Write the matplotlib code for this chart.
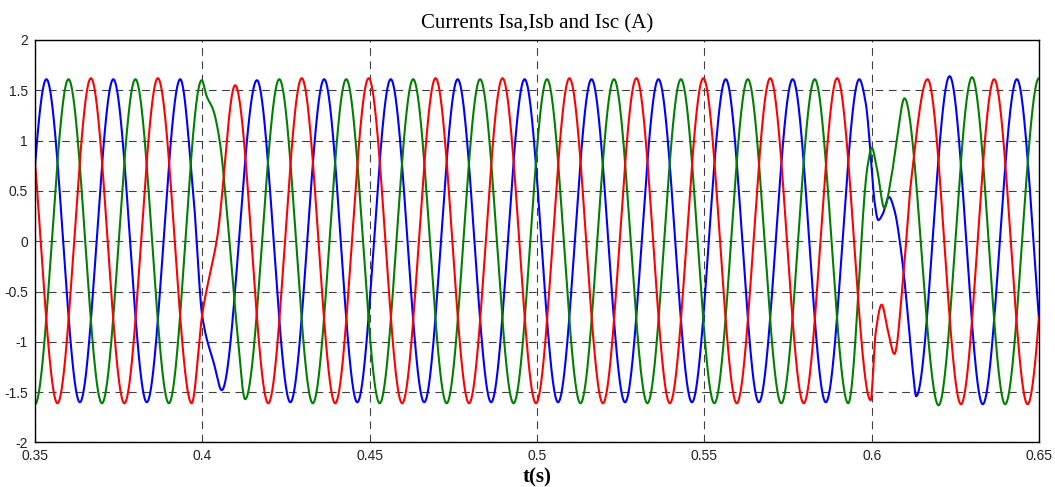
import matplotlib
matplotlib.use("Agg")
import matplotlib.pyplot as plt
import numpy as np

# Knots: peaks, troughs and the odd points of the two
# transients (t in s, current in A). Knots just outside 0.35-0.65 keep the
# ends of the curves right.
isa_t = [0.3434, 0.3534, 0.3634, 0.3734, 0.3834, 0.3934, 0.3973, 0.4000,
         0.4035, 0.4058, 0.4163, 0.4263, 0.4364, 0.4463, 0.4563, 0.4663,
         0.4763, 0.4863, 0.4963, 0.5063, 0.5163, 0.5263, 0.5363, 0.5463,
         0.5564, 0.5663, 0.5764, 0.5863, 0.5963, 0.5982, 0.6000, 0.6008,
         0.6020, 0.6033, 0.6052, 0.6068, 0.6090, 0.6110, 0.6122, 0.6133,
         0.6233, 0.6332, 0.6434, 0.6533]
isa_v = [-1.60, 1.61, -1.60, 1.61, -1.60, 1.61, 0.47, -0.75,
         -1.22, -1.48, 1.60, -1.60, 1.61, -1.60, 1.61, -1.60,
         1.61, -1.60, 1.61, -1.60, 1.61, -1.60, 1.61, -1.60,
         1.61, -1.60, 1.61, -1.60, 1.61, 1.38, 0.74, 0.41,
         0.21, 0.27, 0.44, 0.31, -0.15, -0.80, -1.25, -1.54,
         1.64, -1.62, 1.61, -1.60]

isb_t = [0.3400, 0.3500, 0.3600, 0.3700, 0.3800, 0.3900, 0.3998, 0.4013,
         0.4033, 0.4053, 0.4073, 0.4103, 0.4128, 0.4230, 0.4330, 0.4430,
         0.4530, 0.4630, 0.4730, 0.4830, 0.4930, 0.5030, 0.5130, 0.5230,
         0.5330, 0.5430, 0.5530, 0.5630, 0.5730, 0.5830, 0.5930, 0.5988,
         0.6000, 0.6017, 0.6038, 0.6058, 0.6075, 0.6098, 0.6200, 0.6300,
         0.6399, 0.6500, 0.6600]
isb_v = [1.61, -1.62, 1.61, -1.61, 1.61, -1.61, 1.60, 1.44,
         1.30, 0.97, 0.31, -0.85, -1.57, 1.61, -1.61, 1.61,
         -1.61, 1.61, -1.61, 1.61, -1.61, 1.61, -1.61, 1.61,
         -1.61, 1.61, -1.61, 1.61, -1.61, 1.61, -1.61, 0.75,
         0.93, 0.70, 0.33, 0.62, 1.00, 1.42, -1.63, 1.63,
         -1.62, 1.62, -1.60]

isc_t = [0.3467, 0.3567, 0.3667, 0.3767, 0.3867, 0.3968, 0.4000, 0.4045,
         0.4098, 0.4197, 0.4297, 0.4397, 0.4497, 0.4597, 0.4697, 0.4797,
         0.4897, 0.4997, 0.5097, 0.5197, 0.5297, 0.5397, 0.5497, 0.5597,
         0.5697, 0.5797, 0.5897, 0.5997, 0.6012, 0.6030, 0.6048, 0.6068,
         0.6097, 0.6117, 0.6167, 0.6267, 0.6366, 0.6466, 0.6566]
isc_v = [1.61, -1.61, 1.62, -1.61, 1.62, -1.61, -0.72, 0.05,
         1.55, -1.61, 1.62, -1.61, 1.62, -1.61, 1.62, -1.61,
         1.62, -1.61, 1.62, -1.61, 1.62, -1.61, 1.62, -1.61,
         1.62, -1.61, 1.62, -1.58, -0.91, -0.63, -0.88, -1.12,
         -0.25, 0.57, 1.61, -1.62, 1.61, -1.62, 1.60]

x_ticks = [0.35, 0.4, 0.45, 0.5, 0.55, 0.6, 0.65]
y_ticks = [-2, -1.5, -1, -0.5, 0, 0.5, 1, 1.5, 2]
tick_labels_x = ["0.35", "0.4", "0.45", "0.5", "0.55", "0.6", "0.65"]
tick_labels_y = ["-2", "-1.5", "-1", "-0.5", "0", "0.5", "1", "1.5", "2"]


def smooth(tk, vk, t):
    # monotone cubic hermite (Fritsch-Carlson) through the knots
    tk = np.asarray(tk, float)
    vk = np.asarray(vk, float)
    h = np.diff(tk)
    d = np.diff(vk) / h
    m = np.zeros_like(vk)
    for i in range(1, len(tk) - 1):
        if d[i - 1] * d[i] > 0:
            w1 = 2 * h[i] + h[i - 1]
            w2 = h[i] + 2 * h[i - 1]
            m[i] = (w1 + w2) / (w1 / d[i - 1] + w2 / d[i])
    idx = np.clip(np.searchsorted(tk, t) - 1, 0, len(h) - 1)
    s = (t - tk[idx]) / h[idx]
    h00 = 2 * s**3 - 3 * s**2 + 1
    h10 = s**3 - 2 * s**2 + s
    h01 = -2 * s**3 + 3 * s**2
    h11 = s**3 - s**2
    return (h00 * vk[idx] + h10 * h[idx] * m[idx]
            + h01 * vk[idx + 1] + h11 * h[idx] * m[idx + 1])


t = np.linspace(0.35, 0.65, 6001)

fig = plt.figure(figsize=(10.55, 4.87), dpi=100)
ax = fig.add_axes([0.0332, 0.0914, 0.9516, 0.8265])

ax.plot(t, smooth(isa_t, isa_v, t), color=(0, 0, 1), lw=1.5)
ax.plot(t, smooth(isb_t, isb_v, t), color=(0, 0.5, 0), lw=1.5)
ax.plot(t, smooth(isc_t, isc_v, t), color=(1, 0, 0), lw=1.5)

ax.set_xlim(0.35, 0.65)
ax.set_ylim(-2, 2)
ax.set_xticks(x_ticks)
ax.set_xticklabels(tick_labels_x)
ax.set_yticks(y_ticks)
ax.set_yticklabels(tick_labels_y)
ax.tick_params(length=0, labelsize=10, colors="#222222", pad=5)
for lab in ax.get_xticklabels() + ax.get_yticklabels():
    lab.set_family("Liberation Sans")

ax.grid(True, color="#404040", lw=0.8, linestyle=(0, (7, 5)))
for sp in ax.spines.values():
    sp.set_linewidth(1.0)
    sp.set_color("black")

ax.set_title("Currents Isa,Isb and Isc (A)", family="Liberation Serif",
             fontsize=15, pad=8)
ax.set_xlabel("t(s)", family="Liberation Serif", fontsize=15,
              fontweight="bold", labelpad=3)

fig.savefig("out.png", dpi=100)
